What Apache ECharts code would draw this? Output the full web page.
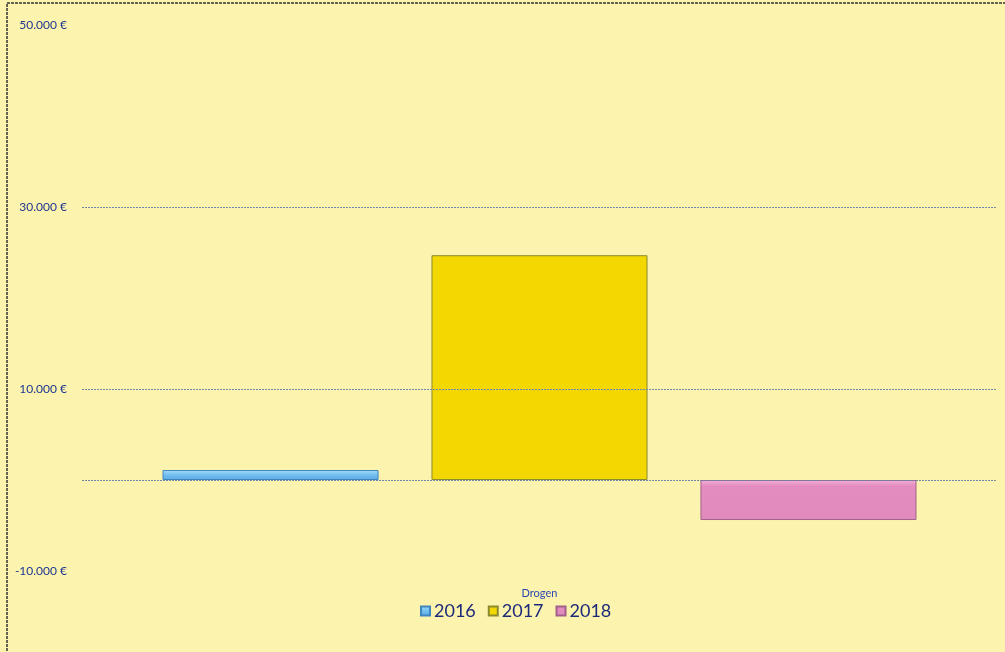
<!DOCTYPE html>
<html><head><meta charset="utf-8">
<script src="https://cdn.jsdelivr.net/npm/echarts@6/dist/echarts.min.js"></script>
<style>html,body{margin:0;padding:0;background:#fcf4ae}#c{width:1005px;height:652px}</style>
</head><body><div id="c"></div>
<script>
const categories = ['Drogen'];
const seriesNames = ['2016', '2017', '2018'];
const values2016 = [1100];
const values2017 = [24700];
const values2018 = [-4400];
const gridValues = [30000, 10000, 0];
const labelValues = [50000, 30000, 10000, -10000];

const fmt = v => (v < 0 ? '-' : '') + Math.abs(v).toLocaleString('de-DE').replace(/,/g,'.') + ' €';

const chart = echarts.init(document.getElementById('c'));
chart.setOption({
  backgroundColor: '#fcf4ae',
  animation: false,
  grid: {left: 82, right: 8, top: 25, bottom: 81},
  legend: {
    data: seriesNames, bottom: 27, left: 415, itemWidth: 9, itemHeight: 9, itemGap: 12,
    icon: 'rect',
    textStyle: {fontFamily: 'Lato', fontSize: 18, color: '#1c2a7a', padding: [0,0,0,-1]}
  },
  xAxis: {
    type: 'category', data: categories,
    axisLine: {show: false, onZero: false}, axisTick: {show: false},
    axisLabel: {margin: 17, fontFamily: 'Lato', fontSize: 11, color: '#2a46b0'}
  },
  yAxis: {
    type: 'value', min: -10000, max: 50000, interval: 10000,
    splitLine: {show: false}, axisLine: {show: false}, axisTick: {show: false},
    axisLabel: {
      margin: 15, fontFamily: 'Lato', fontSize: 12, color: '#1f3690',
      formatter: v => labelValues.includes(v) ? fmt(v) : ''
    }
  },
  series: [
    {name: 'grid', type: 'line', data: [], z: 1, silent: true,
     markLine: {silent: true, symbol: 'none', label: {show: false},
       lineStyle: {color: '#6f86a8', type: [2, 1], width: 1},
       data: gridValues.map(v => ({yAxis: v}))}},
    {name: '2016', type: 'bar', data: values2016, z: 2, barGap: '24.5%', barCategoryGap: '17.6%',
     itemStyle: {color: new echarts.graphic.LinearGradient(0,0,0,1,[{offset:0,color:'#a8dcf8'},{offset:0.5,color:'#72c0f0'},{offset:1,color:'#5aa8e0'}]), borderColor: '#3f86c0', borderWidth: 1}},
    {name: '2017', type: 'bar', data: values2017, z: 2,
     itemStyle: {color: '#f2d800', borderColor: '#8a8a30', borderWidth: 1}},
    {name: '2018', type: 'bar', data: values2018, z: 2,
     itemStyle: {color: new echarts.graphic.LinearGradient(0,0,0,1,[{offset:0,color:'#f2b0d6'},{offset:0.15,color:'#e48cc0'},{offset:1,color:'#e08abd'}]), borderColor: '#a0608a', borderWidth: 1}}
  ],
  graphic: [{type: 'rect', shape: {x: 7, y: 3, width: 1010, height: 680}, style: {fill: 'none', stroke: '#333', lineWidth: 1.5, lineDash: [3, 1]}, silent: true}]
});
</script></body></html>
